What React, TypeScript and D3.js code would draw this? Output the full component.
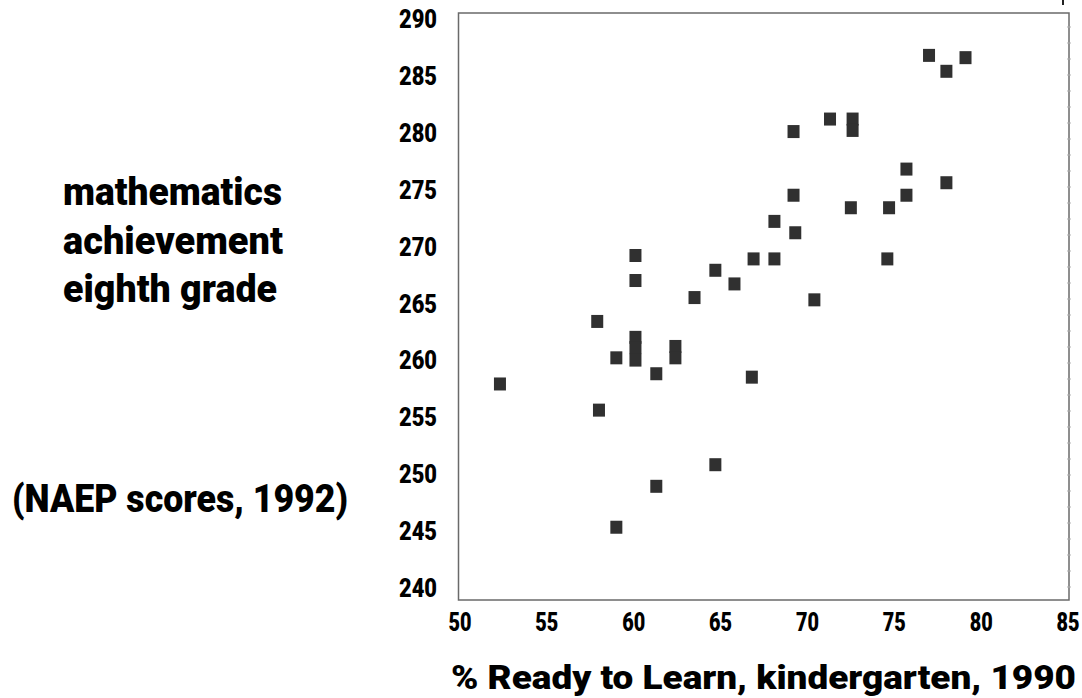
import React from "react";
import * as d3 from "d3";

// % Ready to Learn, kindergarten, 1990 (x) vs NAEP 8th grade math score 1992 (y)
const readyPct = [77.0, 78.0, 79.1, 71.3, 72.6, 72.6, 69.2, 75.7, 78.0, 69.2, 75.7, 72.5, 74.7, 68.1, 69.3, 66.9, 68.1, 74.6, 65.8, 70.4, 60.1, 60.1, 63.5, 64.7, 57.9, 60.1, 60.1, 60.1, 59.0, 62.4, 62.4, 61.3, 66.8, 52.3, 58.0, 64.7, 61.3, 59.0];
const mathScore = [286.8, 285.4, 286.6, 281.2, 281.2, 280.2, 280.1, 276.8, 275.6, 274.5, 274.5, 273.4, 273.4, 272.2, 271.2, 268.9, 268.9, 268.9, 266.7, 265.3, 269.2, 267.0, 265.5, 267.9, 263.4, 262.0, 261.1, 260.0, 260.2, 261.2, 260.2, 258.8, 258.5, 257.9, 255.6, 250.8, 248.9, 245.3];

const xTicks = [50, 55, 60, 65, 70, 75, 80, 85];
const yTicks = [240, 245, 250, 255, 260, 265, 270, 275, 280, 285, 290];

const yLabelLines = ["mathematics", "achievement", "eighth grade"];
const yLabelWidths = [219, 220, 214];
const yNote = "(NAEP scores, 1992)";
const xTitle = "% Ready to Learn, kindergarten, 1990";

const W = 1082;
const H = 698;
const frame = { left: 458.5, right: 1069, top: 13, bottom: 600 };
const FONT = "Roboto, 'Liberation Sans', 'DejaVu Sans', sans-serif";

export default function App() {
  const x = d3.scaleLinear().domain([50, 85]).range([460, 1068]);
  const y = d3.scaleLinear().domain([240, 290]).range([587.5, 19]);
  const pts = readyPct.map((v, i) => ({ xv: v, yv: mathScore[i] }));
  const rightTicks = d3.range(frame.top + 14, frame.bottom, 16);

  return (
    <svg width={W} height={H} style={{ position: "absolute", left: 0, top: 0, background: "#fff" }}>
      <rect x={0} y={0} width={W} height={H} fill="#fff" />
      {/* frame */}
      <rect
        x={frame.left}
        y={frame.top}
        width={frame.right - frame.left}
        height={frame.bottom - frame.top}
        fill="none"
        stroke="#6a6a6a"
        strokeWidth={1.5}
      />
      {rightTicks.map((t, i) => (
        <line key={i} x1={frame.right - 2} x2={frame.right + 2} y1={t} y2={t} stroke="#b0b0b0" strokeWidth={1} />
      ))}
      <line x1={1063} x2={1063} y1={0} y2={5} stroke="#222" strokeWidth={2} />

      {/* y tick labels */}
      {yTicks.map((t) => (
        <text
          key={t}
          x={437}
          y={y(t)}
          dy="0.36em"
          textAnchor="end"
          fontFamily={FONT}
          fontWeight={900}
          fontSize={26}
          textLength={38}
          lengthAdjust="spacingAndGlyphs"
          fill="#000"
        >
          {t}
        </text>
      ))}

      {/* x tick labels */}
      {xTicks.map((t) => (
        <text
          key={t}
          x={x(t)}
          y={631}
          textAnchor="middle"
          fontFamily={FONT}
          fontWeight={900}
          fontSize={25}
          textLength={23}
          lengthAdjust="spacingAndGlyphs"
          fill="#000"
        >
          {t}
        </text>
      ))}

      {/* points */}
      {pts.map((p, i) => (
        <rect key={i} x={x(p.xv) - 6} y={y(p.yv) - 6.5} width={12} height={13} fill="#303030" />
      ))}

      {/* y label */}
      {yLabelLines.map((s, i) => (
        <text
          key={s}
          x={63}
          y={205 + i * 48.5}
          fontFamily={FONT}
          fontWeight={900}
          fontSize={38}
          textLength={yLabelWidths[i]}
          lengthAdjust="spacingAndGlyphs"
          fill="#000"
        >
          {s}
        </text>
      ))}
      <text
        x={12}
        y={512}
        fontFamily={FONT}
        fontWeight={900}
        fontSize={38}
        textLength={336}
        lengthAdjust="spacingAndGlyphs"
        fill="#000"
      >
        {yNote}
      </text>

      {/* x title */}
      <text
        x={451}
        y={688.5}
        fontFamily={FONT}
        fontWeight={900}
        fontSize={34}
        textLength={625}
        lengthAdjust="spacingAndGlyphs"
        fill="#000"
      >
        {xTitle}
      </text>
    </svg>
  );
}
